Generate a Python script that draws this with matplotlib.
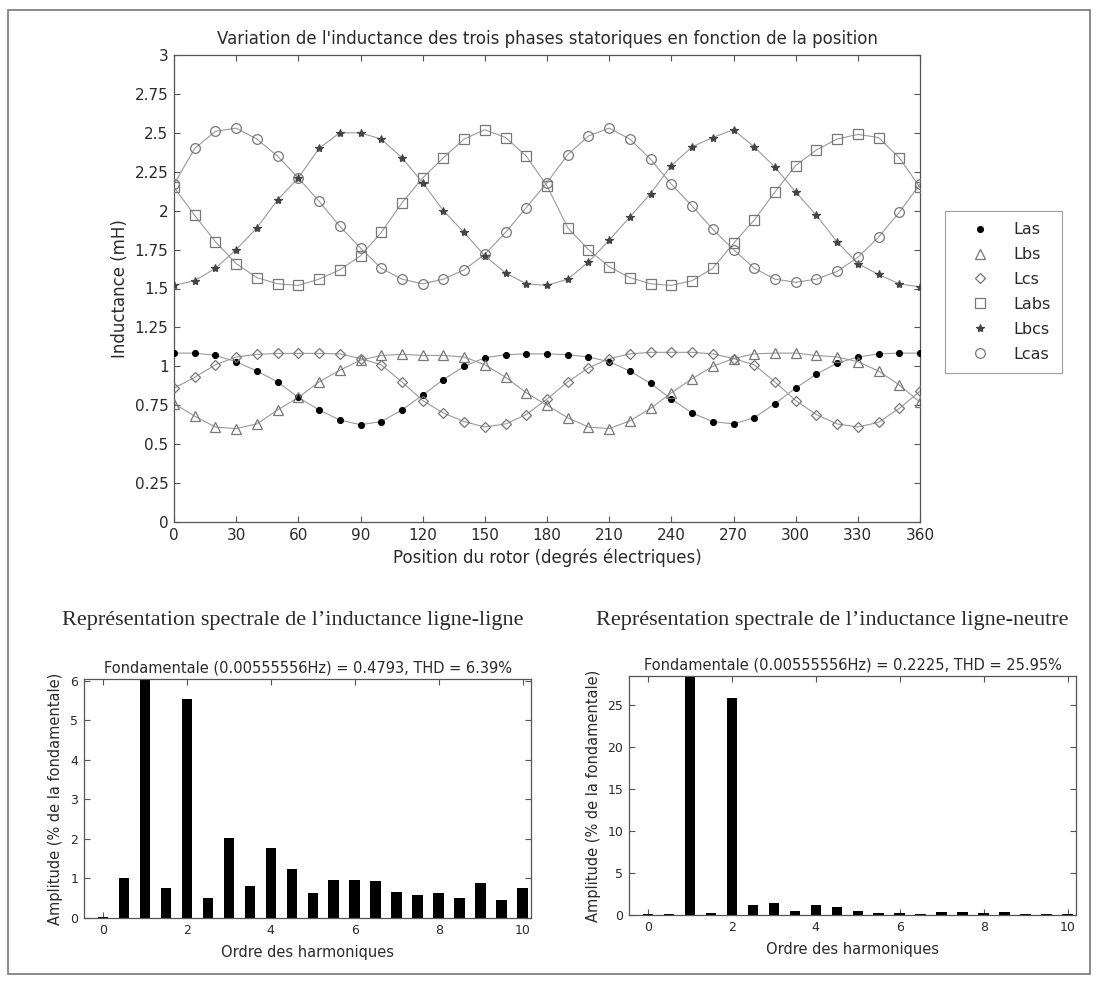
import matplotlib
matplotlib.use("Agg")
import matplotlib.pyplot as plt
from matplotlib.patches import Rectangle

# Position du rotor (degrés électriques), un point tous les 10 degrés
position = list(range(0, 361, 10))

# Inductances propres (mH)
Las = [1.085, 1.085, 1.07, 1.03, 0.97, 0.90, 0.80, 0.72, 0.655, 0.625, 0.645, 0.72, 0.815,
       0.915, 1.00, 1.055, 1.075, 1.08, 1.08, 1.075, 1.06, 1.03, 0.97, 0.89, 0.79, 0.70,
       0.645, 0.63, 0.67, 0.76, 0.86, 0.95, 1.02, 1.06, 1.08, 1.085, 1.085]
Lbs = [0.76, 0.68, 0.61, 0.60, 0.63, 0.72, 0.80, 0.90, 0.975, 1.04, 1.07, 1.077, 1.07,
       1.07, 1.06, 1.01, 0.93, 0.83, 0.75, 0.67, 0.61, 0.60, 0.65, 0.73, 0.83, 0.92,
       1.00, 1.05, 1.08, 1.085, 1.085, 1.07, 1.06, 1.03, 0.97, 0.88, 0.77]
Lcs = [0.86, 0.93, 1.01, 1.06, 1.077, 1.083, 1.083, 1.083, 1.08, 1.05, 1.01, 0.90, 0.78,
       0.70, 0.645, 0.61, 0.63, 0.69, 0.79, 0.90, 0.99, 1.05, 1.08, 1.09, 1.09, 1.09,
       1.08, 1.05, 1.01, 0.90, 0.78, 0.69, 0.63, 0.61, 0.64, 0.73, 0.84]

# Inductances ligne-ligne (mH)
Labs = [2.15, 1.97, 1.80, 1.66, 1.57, 1.53, 1.52, 1.56, 1.62, 1.71, 1.86, 2.05, 2.21,
        2.34, 2.46, 2.52, 2.47, 2.35, 2.16, 1.89, 1.75, 1.64, 1.57, 1.53, 1.52, 1.55,
        1.63, 1.79, 1.94, 2.12, 2.29, 2.39, 2.46, 2.49, 2.47, 2.34, 2.15]
Lbcs = [1.52, 1.55, 1.63, 1.75, 1.89, 2.07, 2.21, 2.40, 2.50, 2.50, 2.46, 2.34, 2.18,
        2.00, 1.86, 1.71, 1.60, 1.53, 1.52, 1.56, 1.67, 1.81, 1.96, 2.11, 2.29, 2.41,
        2.47, 2.52, 2.41, 2.28, 2.12, 1.97, 1.80, 1.66, 1.59, 1.53, 1.51]
Lcas = [2.17, 2.40, 2.51, 2.53, 2.46, 2.35, 2.21, 2.06, 1.90, 1.76, 1.63, 1.56, 1.53,
        1.56, 1.62, 1.72, 1.86, 2.02, 2.18, 2.36, 2.48, 2.53, 2.46, 2.33, 2.17, 2.03,
        1.88, 1.75, 1.63, 1.56, 1.54, 1.56, 1.61, 1.70, 1.83, 1.99, 2.17]

# Spectres (% de la fondamentale), ordre 0 à 10 par pas de 0.5
ordre = [i / 2 for i in range(21)]
spectre_ll = [0.03, 1.0, 100, 0.75, 5.55, 0.5, 2.02, 0.82, 1.78, 1.25, 0.63, 0.95, 0.95,
              0.93, 0.65, 0.57, 0.63, 0.5, 0.88, 0.45, 0.77]
spectre_ln = [0.1, 0.1, 100, 0.25, 25.9, 1.2, 1.4, 0.5, 1.15, 0.9, 0.5, 0.2, 0.2,
              0.15, 0.4, 0.4, 0.25, 0.4, 0.1, 0.15, 0.1]

W, H = 1100, 982
fig = plt.figure(figsize=(W / 100, H / 100), dpi=100)
plt.rcParams['font.family'] = ['DejaVu Sans']
gris = '#555555'
texte = '#2a2a2a'


def pos(x0, y0, x1, y1):
    return [x0 / W, 1 - y1 / H, (x1 - x0) / W, (y1 - y0) / H]


def style_axes(ax, taille):
    for s in ax.spines.values():
        s.set_color(gris)
        s.set_linewidth(0.9)
    ax.tick_params(direction='in', top=True, right=True, length=4, width=0.8,
                   colors=gris, labelcolor=texte, labelsize=taille, pad=4)


# --- Graphique des inductances ---
ax = fig.add_axes(pos(174, 55, 920, 522))
courbes = [
    ('Las', Las, dict(marker='o', markersize=4.2, markerfacecolor='black', markeredgecolor='black')),
    ('Lbs', Lbs, dict(marker='^', markersize=7, markerfacecolor='none', markeredgecolor='#777777')),
    ('Lcs', Lcs, dict(marker='D', markersize=5.5, markerfacecolor='none', markeredgecolor='#777777')),
    ('Labs', Labs, dict(marker='s', markersize=7, markerfacecolor='none', markeredgecolor='#777777')),
    ('Lbcs', Lbcs, dict(marker='*', markersize=6, markerfacecolor='#444444', markeredgecolor='#444444')),
    ('Lcas', Lcas, dict(marker='o', markersize=7, markerfacecolor='none', markeredgecolor='#777777')),
]
for nom, y, m in courbes:
    ax.plot(position, y, color='#9a9a9a', linewidth=0.8, zorder=2)
    ax.plot(position, y, linestyle='none', markeredgewidth=0.9, label=nom, zorder=3, **m)

ax.set_xlim(0, 360)
ax.set_ylim(0, 3)
ax.set_xticks(range(0, 361, 30))
yt = [i * 0.25 for i in range(13)]
ax.set_yticks(yt)
ax.set_yticklabels(['%g' % v for v in yt])
style_axes(ax, 11)
ax.set_xlabel('Position du rotor (degrés électriques)', fontsize=12, color=texte, labelpad=4)
ax.set_ylabel('Inductance (mH)', fontsize=12, color=texte, labelpad=4)
ax.set_title("Variation de l'inductance des trois phases statoriques en fonction de la position",
             fontsize=12, color=texte, pad=8)

leg = ax.legend(loc='center left', bbox_to_anchor=(945 / W, 1 - 292 / H),
                bbox_transform=fig.transFigure, fontsize=11.5, frameon=True,
                fancybox=False, edgecolor='#888888', handlelength=3.0,
                handletextpad=0.6, labelspacing=0.62, borderpad=0.7,
                borderaxespad=0)
leg.get_frame().set_linewidth(0.8)
for t in leg.get_texts():
    t.set_color(texte)

# --- Spectres ---
spectres = [
    (pos(84, 679, 531, 918), spectre_ll, 6.05, range(0, 7),
     "Représentation spectrale de l’inductance ligne-ligne",
     'Fondamentale (0.00555556Hz) = 0.4793, THD = 6.39%', 293),
    (pos(629, 676, 1076, 915), spectre_ln, 28.5, range(0, 26, 5),
     "Représentation spectrale de l’inductance ligne-neutre",
     'Fondamentale (0.00555556Hz) = 0.2225, THD = 25.95%', 832),
]
for rect, valeurs, ymax, yticks, grand_titre, sous_titre, xc in spectres:
    a = fig.add_axes(rect)
    a.bar(ordre, valeurs, width=0.25, color='black', zorder=2)
    a.set_xlim(-0.45, 10.2)
    a.set_ylim(0, ymax)
    a.set_xticks(range(0, 11, 2))
    a.set_yticks(list(yticks))
    style_axes(a, 9)
    a.set_xlabel('Ordre des harmoniques', fontsize=10.5, color=texte, labelpad=6)
    a.set_ylabel('Amplitude (% de la fondamentale)', fontsize=10.5, color=texte, labelpad=5)
    a.set_title(sous_titre, fontsize=10.5, color=texte, pad=5)
    fig.text(xc / W, 1 - 620 / H, grand_titre, ha='center', va='center',
             fontsize=16, color=texte, family=['Liberation Serif', 'DejaVu Serif'])

# cadre autour de la figure
fig.patches.append(Rectangle((8 / W, 8 / H), 1 - 18 / W, 1 - 18 / H, transform=fig.transFigure,
                             fill=False, edgecolor='#777777', linewidth=1.2))

fig.savefig('out.png', dpi=100, facecolor='white')
